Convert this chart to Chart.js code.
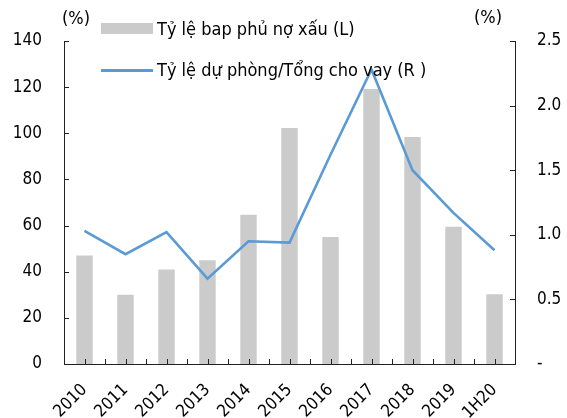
<!DOCTYPE html>
<html lang="en">

<head>
  <meta charset="UTF-8" />
  <title>Chart</title>
  <style>
    body {
      margin: 0;
      background: #fff;
    }

    .wrap {
      position: relative;
      width: 567px;
      height: 418px;
      font-family: "DejaVu Sans Condensed", "DejaVu Sans", sans-serif;
      font-size: 18px;
      color: #000;
    }

    .lbl {
      position: absolute;
      white-space: nowrap;
      line-height: 20px;
    }

    .swatch {
      position: absolute;
    }
  </style>
  <script src="https://cdn.jsdelivr.net/npm/chart.js"></script>
</head>

<body>
  <div class="wrap">
    <canvas id="chart" width="567" height="418"></canvas>
    <div class="lbl" style="left:62px;top:8px">(%)</div>
    <div class="lbl" style="left:474px;top:7px">(%)</div>
    <div class="swatch" style="left:101px;top:23px;width:52px;height:11px;background:#cbcbcb"></div>
    <div class="lbl" style="left:157px;top:19px">Tỷ lệ bap phủ nợ xấu (L)</div>
    <div class="swatch" style="left:101px;top:69px;width:52px;height:3px;background:#5b9bd5"></div>
    <div class="lbl" style="left:157px;top:60px">Tỷ lệ dự phòng/Tổng cho vay (R )</div>
  </div>
</body>

</html>
<script>
  const years = ['2010', '2011', '2012', '2013', '2014', '2015', '2016', '2017', '2018', '2019', '1H20']
  const coverage = [47, 30, 41, 45, 64.7, 102.3, 55, 119.2, 98.4, 59.5, 30.2]
  const provision = [1.03, 0.85, 1.02, 0.66, 0.95, 0.94, 1.62, 2.28, 1.50, 1.17, 0.88]
  const leftTicks = [0, 20, 40, 60, 80, 100, 120, 140]
  const rightTicks = [0, 0.5, 1.0, 1.5, 2.0, 2.5]

  const font = { family: '"DejaVu Sans Condensed", "DejaVu Sans", sans-serif', size: 17 }
  const axisColor = '#222'

  // short tick marks pointing into the plot, like the original
  const innerTicks = {
    id: 'innerTicks',
    afterDraw(c) {
      const ctx = c.ctx
      const area = c.chartArea
      const x = c.scales.x, y = c.scales.y, y1 = c.scales.y1
      ctx.save()
      ctx.strokeStyle = axisColor
      ctx.lineWidth = 1
      ctx.beginPath()
      leftTicks.forEach(v => {
        const py = Math.round(y.getPixelForValue(v)) + 0.5
        ctx.moveTo(area.left, py); ctx.lineTo(area.left + 5, py)
      })
      rightTicks.forEach(v => {
        const py = Math.round(y1.getPixelForValue(v)) + 0.5
        ctx.moveTo(area.right, py); ctx.lineTo(area.right - 5, py)
      })
      years.forEach((l, i) => {
        const half = (x.getPixelForValue(1) - x.getPixelForValue(0)) / 2
        const px = Math.round(x.getPixelForValue(i)) + 0.5
        const pb = Math.round(x.getPixelForValue(i) + half) + 0.5
        ctx.moveTo(px, area.bottom); ctx.lineTo(px, area.bottom - 5)
        ctx.moveTo(pb, area.bottom); ctx.lineTo(pb, area.bottom - 5)
      })
      ctx.stroke()
      ctx.restore()
    }
  }

  const chart = new Chart(document.querySelector('#chart'), {
    data: {
      labels: years,
      datasets: [{
        type: 'line',
        label: 'Tỷ lệ dự phòng/Tổng cho vay (R )',
        data: provision,
        yAxisID: 'y1',
        borderColor: '#5b9bd5',
        borderWidth: 2.6,
        pointRadius: 0,
        tension: 0,
        order: 0
      }, {
        type: 'bar',
        label: 'Tỷ lệ bap phủ nợ xấu (L)',
        data: coverage,
        yAxisID: 'y',
        backgroundColor: '#cbcbcb',
        barPercentage: 0.4,
        categoryPercentage: 1,
        order: 1
      }]
    },
    options: {
      responsive: false,
      animation: false,
      layout: { padding: { top: 41, left: 0, right: 0, bottom: 0 } },
      plugins: { legend: { display: false }, tooltip: { enabled: false } },
      scales: {
        x: {
          offset: true,
          grid: { display: false },
          border: { display: true, color: axisColor },
          ticks: { color: '#000', font: font, minRotation: 45, maxRotation: 45, padding: 8 },
          afterFit: s => { s.height = 54 }
        },
        y: {
          position: 'left',
          min: 0,
          max: 140,
          afterBuildTicks: s => { s.ticks = leftTicks.map(v => ({ value: v })) },
          grid: { display: false },
          border: { display: true, color: axisColor },
          ticks: { color: '#000', font: font, padding: 14 },
          afterFit: s => { s.width = 64 }
        },
        y1: {
          position: 'right',
          min: 0,
          max: 2.5,
          afterBuildTicks: s => { s.ticks = rightTicks.map(v => ({ value: v })) },
          grid: { display: false },
          border: { display: true, color: axisColor },
          ticks: {
            color: '#000', font: font, padding: 14,
            callback: v => v === 0 ? '-' : v.toFixed(1)
          },
          afterFit: s => { s.width = 52 }
        }
      }
    },
    plugins: [innerTicks]
  })
</script>
